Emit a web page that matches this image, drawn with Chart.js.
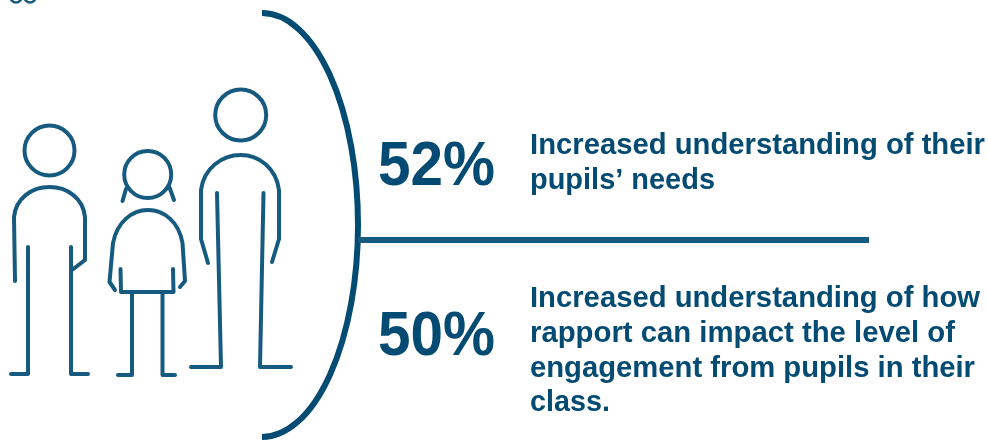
<!DOCTYPE html>
<html>
<head>
<meta charset="utf-8">
<style>
  html, body { margin: 0; padding: 0; background: #fff; }
  #impactChart { display: block; }
</style>
<script src="https://cdn.jsdelivr.net/npm/chart.js@4/dist/chart.umd.min.js"></script>
</head>
<body>
<canvas id="impactChart" width="988" height="440"></canvas>
<script>
// Survey results, one entry per row
const categories = ['Pupils needs', 'Rapport and engagement'];
const percentages = [52, 50];
const rowLines = [
    ['Increased understanding of their', 'pupils\u2019 needs'],
    ['Increased understanding of how', 'rapport can impact the level of', 'engagement from pupils in their', 'class.']
];

const DARK = '#034b72';
const LINE = '#175a80';

// Stroke a polyline given as x, y pairs
function poly(ctx, pts) {
    ctx.beginPath();
    ctx.moveTo(pts[0], pts[1]);
    for (let i = 2; i < pts.length; i += 2) {
        ctx.lineTo(pts[i], pts[i + 1]);
    }
    ctx.stroke();
}

function head(ctx, x, y, r) {
    ctx.beginPath();
    ctx.arc(x, y, r, 0, Math.PI * 2);
    ctx.stroke();
}

// The three outline figures on the left
function drawPeople(ctx) {
    ctx.save();
    ctx.strokeStyle = LINE;
    ctx.lineWidth = 4;
    ctx.lineCap = 'round';
    ctx.lineJoin = 'round';

    // adult on the left
    head(ctx, 49.5, 150.5, 25);
    ctx.beginPath();
    ctx.moveTo(15, 281);
    ctx.lineTo(14, 217);
    ctx.bezierCurveTo(16, 198, 32, 187, 49.5, 187);
    ctx.bezierCurveTo(67, 187, 83, 198, 85, 217);
    ctx.lineTo(85, 260);
    ctx.lineTo(72, 270);
    ctx.stroke();
    poly(ctx, [28, 247, 28, 374, 11, 374]);
    poly(ctx, [71, 247, 71, 374, 88, 374]);

    // child in the middle
    head(ctx, 147.7, 174.5, 23.5);
    poly(ctx, [126, 189, 122.5, 201]);
    poly(ctx, [169, 186, 174, 200]);
    ctx.beginPath();
    ctx.moveTo(115, 290);
    ctx.lineTo(109.5, 282);
    ctx.lineTo(113, 243);
    ctx.bezierCurveTo(117, 222, 132, 210, 148, 210);
    ctx.bezierCurveTo(164, 210, 179, 222, 182.5, 243);
    ctx.lineTo(185, 281);
    ctx.lineTo(180, 287);
    ctx.stroke();
    poly(ctx, [120.5, 269, 121, 292, 173.5, 292, 173, 269]);
    poly(ctx, [132, 292, 132, 375, 118, 375]);
    poly(ctx, [162.5, 292, 162.5, 375, 175, 375]);

    // tall adult on the right
    head(ctx, 240.7, 115, 25.5);
    ctx.beginPath();
    ctx.moveTo(208, 263);
    ctx.lineTo(201, 239);
    ctx.lineTo(201, 190);
    ctx.bezierCurveTo(204, 168, 222, 155, 240.7, 155);
    ctx.bezierCurveTo(259, 155, 276, 168, 279, 190);
    ctx.lineTo(279, 239);
    ctx.lineTo(272, 262);
    ctx.stroke();
    poly(ctx, [217, 193, 221, 367, 191, 367]);
    poly(ctx, [263.5, 193, 260, 367, 291, 367]);
    ctx.restore();
}

// Curved bracket and the divider between the two rows
function drawBracket(ctx) {
    ctx.save();
    ctx.strokeStyle = DARK;
    ctx.lineWidth = 6;
    ctx.beginPath();
    ctx.ellipse(262, 225, 96, 212, 0, -Math.PI / 2, Math.PI / 2);
    ctx.stroke();
    ctx.strokeStyle = LINE;
    ctx.beginPath();
    ctx.moveTo(358, 240);
    ctx.lineTo(869, 240);
    ctx.stroke();

    // bottoms of two clipped characters in the top corner
    ctx.strokeStyle = LINE;
    ctx.lineWidth = 2.5;
    head(ctx, 16, -3, 5.5);
    head(ctx, 30, -3, 5.5);
    ctx.restore();
}

// Draw text squeezed to a given width so line ends stay in place
function fitText(ctx, text, x, y, width) {
    const w = ctx.measureText(text).width;
    ctx.save();
    ctx.translate(x, y);
    ctx.scale(width / w, 1);
    ctx.fillText(text, 0, 0);
    ctx.restore();
}

const lineEnds = [[985, 715], [980, 955, 975, 610]];
const lineOffsets = [[-8, 27], [-25, 10, 45, 79]];

const infographic = {
    id: 'infographic',
    afterDatasetsDraw(chart) {
        const ctx = chart.ctx;
        drawPeople(ctx);
        drawBracket(ctx);

        const yScale = chart.scales.y;
        ctx.textBaseline = 'alphabetic';
        ctx.textAlign = 'left';
        ctx.fillStyle = DARK;
        percentages.forEach((value, i) => {
            const y = yScale.getPixelForValue(i);
            ctx.font = 'bold 63px "Liberation Sans"';
            fitText(ctx, value + '%', 378, y + 23, 117);
            ctx.font = 'bold 30px "Liberation Sans"';
            rowLines[i].forEach((line, n) => {
                fitText(ctx, line, 530, y + lineOffsets[i][n], lineEnds[i][n] - 530);
            });
        });
    }
};

const ctx = document.getElementById('impactChart').getContext('2d');
const impactChart = new Chart(ctx, {
    type: 'bar',
    data: {
        labels: categories,
        datasets: [{
            label: 'Teachers reporting',
            data: percentages,
            backgroundColor: 'transparent',
            borderWidth: 0
        }]
    },
    options: {
        indexAxis: 'y',
        responsive: false,
        animation: false,
        layout: { padding: { top: 77, bottom: 23 } },
        plugins: {
            legend: { display: false },
            tooltip: { enabled: false }
        },
        scales: {
            x: { display: false, min: 0, max: 100 },
            y: { display: false }
        }
    },
    plugins: [infographic]
});
</script>
</body>
</html>
